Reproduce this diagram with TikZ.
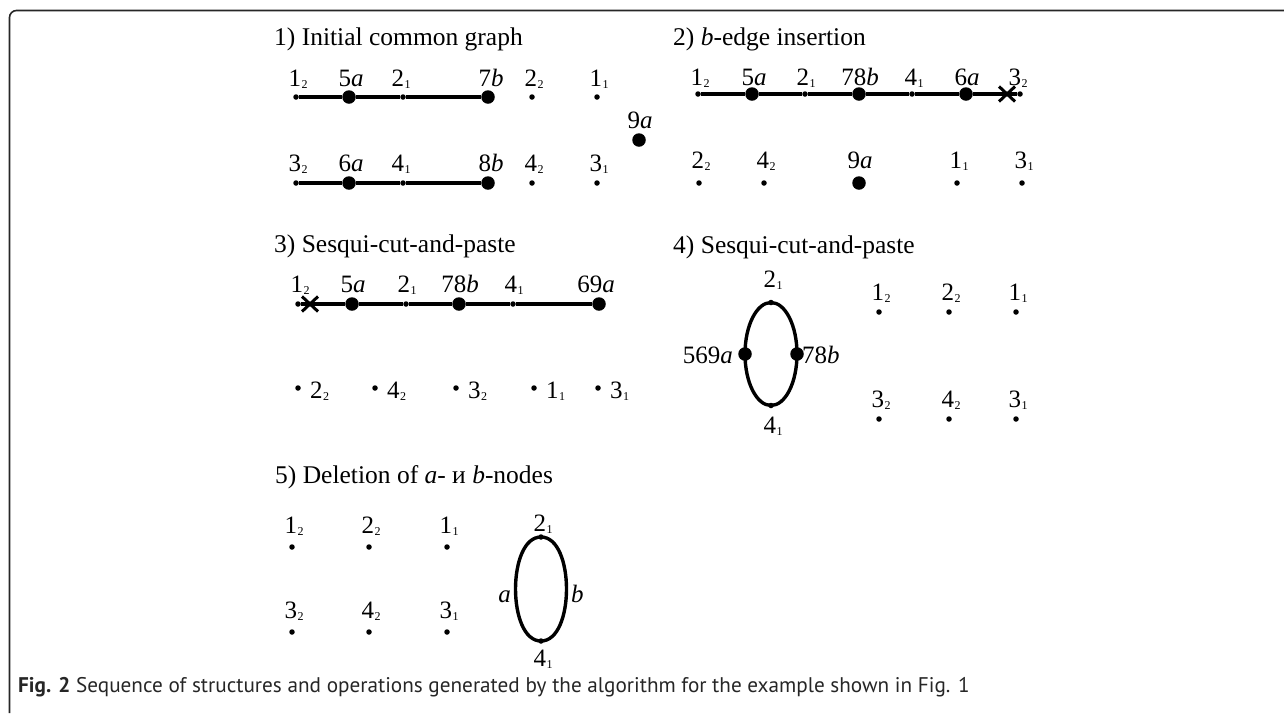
\documentclass[tikz,border=0pt]{standalone}
\usepackage{fontspec}
\setmainfont{Liberation Serif}
\newfontfamily\capfont{PT Sans}
\usetikzlibrary{shapes.misc}
\tikzset{
 sdot/.style={circle,fill=black,inner sep=0pt,minimum size=5.5pt},
 bdot/.style={circle,fill=black,inner sep=0pt,minimum size=13.5pt},
 xmark/.style={cross out,draw=black,line width=3pt,minimum width=13pt,minimum height=12pt,inner sep=0pt},
 edgeline/.style={line width=3.4pt},
 lbl/.style={anchor=base,inner sep=0pt,font=\fontsize{25}{29}\selectfont},
 lblw/.style={lbl,anchor=base west},
 lble/.style={lbl,anchor=base east},
 ttl/.style={anchor=base west,inner sep=0pt,font=\fontsize{25.5}{30}\selectfont},
 frameline/.style={line width=1.6pt,draw=black!85,rounded corners=7pt},
}
\newcommand\lb[2]{#1\kern0.5pt\raisebox{-2pt}{\fontsize{12}{13}\selectfont #2}}
\newcommand\iv[1]{\textit{#1}}
\begin{document}
\begin{tikzpicture}[x=1pt,y=-1pt]
\useasboundingbox (0,0) rectangle (1284,713);
\draw[frameline] (1284,10.5) -- (9.5,10.5) -- (9.5,713);

% ---------- Panel 1
\node[ttl] (t1) at (274,45) {1) Initial common graph};
\node[sdot] (a1) at (296,97) {};
\node[bdot] (a2) at (349,97) {};
\node[sdot] (a3) at (403,97) {};
\node[bdot] (a4) at (488,97) {};
\node[sdot] (a5) at (532,97) {};
\node[sdot] (a6) at (597,97) {};
\draw[edgeline] (a1) -- (a2) -- (a3) -- (a4);
\node[lbl] (la1) at (298,86) {\lb{1}{2}};
\node[lbl] (la2) at (351,86) {5\iv{a}};
\node[lbl] (la3) at (401,86) {\lb{2}{1}};
\node[lbl] (la4) at (491,86) {7\iv{b}};
\node[lbl] (la5) at (534,86) {\lb{2}{2}};
\node[lbl] (la6) at (599,86) {\lb{1}{1}};
\node[sdot] (b1) at (296,183) {};
\node[bdot] (b2) at (349,183) {};
\node[sdot] (b3) at (403,183) {};
\node[bdot] (b4) at (488,183) {};
\node[sdot] (b5) at (532,183) {};
\node[sdot] (b6) at (597,183) {};
\draw[edgeline] (b1) -- (b2) -- (b3) -- (b4);
\node[lbl] (lb1) at (298,171) {\lb{3}{2}};
\node[lbl] (lb2) at (351,171) {6\iv{a}};
\node[lbl] (lb3) at (401,171) {\lb{4}{1}};
\node[lbl] (lb4) at (491,171) {8\iv{b}};
\node[lbl] (lb5) at (534,171) {\lb{4}{2}};
\node[lbl] (lb6) at (599,171) {\lb{3}{1}};
\node[bdot] (a9) at (639,140) {};
\node[lbl] (la9) at (640,128) {9\iv{a}};

% ---------- Panel 2
\node[ttl] (t2) at (673,45) {2) \iv{b}-edge insertion};
\node[sdot] (c1) at (698,94) {};
\node[bdot] (c2) at (752,94) {};
\node[sdot] (c3) at (805,94) {};
\node[bdot] (c4) at (859,94) {};
\node[sdot] (c5) at (912,94) {};
\node[bdot] (c6) at (966,94) {};
\node[xmark] (cx) at (1007,94) {};
\node[sdot] (c7) at (1020,94) {};
\draw[edgeline] (c1) -- (c2) -- (c3) -- (c4) -- (c5) -- (c6) -- (c7);
\node[lbl] (lc1) at (700,85) {\lb{1}{2}};
\node[lbl] (lc2) at (754,85) {5\iv{a}};
\node[lbl] (lc3) at (806,85) {\lb{2}{1}};
\node[lbl] (lc4) at (860,85) {78\iv{b}};
\node[lbl] (lc5) at (914,85) {\lb{4}{1}};
\node[lbl] (lc6) at (967,85) {6\iv{a}};
\node[lbl] (lc7) at (1018,85) {\lb{3}{2}};
\node[sdot] (d1) at (699,183) {};
\node[sdot] (d2) at (764,183) {};
\node[bdot] (d3) at (859,183) {};
\node[sdot] (d4) at (957,183) {};
\node[sdot] (d5) at (1022,183) {};
\node[lbl] (ld1) at (701,168) {\lb{2}{2}};
\node[lbl] (ld2) at (766,168) {\lb{4}{2}};
\node[lbl] (ld3) at (860,168) {9\iv{a}};
\node[lbl] (ld4) at (959,168) {\lb{1}{1}};
\node[lbl] (ld5) at (1024,168) {\lb{3}{1}};

% ---------- Panel 3
\node[ttl] (t3) at (274,252) {3) Sesqui-cut-and-paste};
\node[sdot] (e1) at (298,304) {};
\node[xmark] (ex) at (310,304) {};
\node[bdot] (e2) at (352,304) {};
\node[sdot] (e3) at (406,304) {};
\node[bdot] (e4) at (459,304) {};
\node[sdot] (e5) at (513,304) {};
\node[bdot] (e6) at (599,304) {};
\draw[edgeline] (e1) -- (e2) -- (e3) -- (e4) -- (e5) -- (e6);
\node[lbl] (le1) at (300,292) {\lb{1}{2}};
\node[lbl] (le2) at (353,292) {5\iv{a}};
\node[lbl] (le3) at (407,292) {\lb{2}{1}};
\node[lbl] (le4) at (460,292) {78\iv{b}};
\node[lbl] (le5) at (514,292) {\lb{4}{1}};
\node[lbl] (le6) at (596,292) {69\iv{a}};
\node[sdot] (f1) at (298,388) {};
\node[sdot] (f2) at (375,388) {};
\node[sdot] (f3) at (456,388) {};
\node[sdot] (f4) at (534,388) {};
\node[sdot] (f5) at (598,388) {};
\node[lblw] (lf1) at (310,398) {\lb{2}{2}};
\node[lblw] (lf2) at (387,398) {\lb{4}{2}};
\node[lblw] (lf3) at (468,398) {\lb{3}{2}};
\node[lblw] (lf4) at (546,398) {\lb{1}{1}};
\node[lblw] (lf5) at (610,398) {\lb{3}{1}};

% ---------- Panel 4
\node[ttl] (t4) at (673,253) {4) Sesqui-cut-and-paste};
\node[sdot] (g1) at (771,302.5) {};
\node[bdot] (g2) at (745,354) {};
\node[sdot] (g3) at (771,405.5) {};
\node[bdot] (g4) at (797,354) {};
\draw[edgeline] (g1.center) .. controls +(-14.4,0) and +(0,-28.4) .. (g2.center)
  .. controls +(0,28.4) and +(-14.4,0) .. (g3.center)
  .. controls +(14.4,0) and +(0,28.4) .. (g4.center)
  .. controls +(0,-28.4) and +(14.4,0) .. (g1.center);
\node[lbl] (lg1) at (773,287) {\lb{2}{1}};
\node[lble] (lg2) at (733,363) {569\iv{a}};
\node[lbl] (lg3) at (773,433) {\lb{4}{1}};
\node[lblw] (lg4) at (802,363) {78\iv{b}};
\node[sdot] (h1) at (879,312) {};
\node[sdot] (h2) at (949,312) {};
\node[sdot] (h3) at (1016,312) {};
\node[sdot] (h4) at (879,419) {};
\node[sdot] (h5) at (949,419) {};
\node[sdot] (h6) at (1016,419) {};
\node[lbl] (lh1) at (881,300) {\lb{1}{2}};
\node[lbl] (lh2) at (951,300) {\lb{2}{2}};
\node[lbl] (lh3) at (1018,300) {\lb{1}{1}};
\node[lbl] (lh4) at (881,407) {\lb{3}{2}};
\node[lbl] (lh5) at (951,407) {\lb{4}{2}};
\node[lbl] (lh6) at (1018,407) {\lb{3}{1}};

% ---------- Panel 5
\node[ttl] (t5) at (275,483) {5) Deletion of \iv{a}- и \iv{b}-nodes};
\node[sdot] (k1) at (292,547) {};
\node[sdot] (k2) at (369,547) {};
\node[sdot] (k3) at (447,547) {};
\node[sdot] (k4) at (292,632) {};
\node[sdot] (k5) at (369,632) {};
\node[sdot] (k6) at (447,632) {};
\node[lbl] (lk1) at (294,533) {\lb{1}{2}};
\node[lbl] (lk2) at (371,533) {\lb{2}{2}};
\node[lbl] (lk3) at (449,533) {\lb{1}{1}};
\node[lbl] (lk4) at (294,618) {\lb{3}{2}};
\node[lbl] (lk5) at (371,618) {\lb{4}{2}};
\node[lbl] (lk6) at (449,618) {\lb{3}{1}};
\node[sdot] (m1) at (541,537) {};
\node[sdot] (m3) at (541,641) {};
\draw[edgeline] (m1.center) .. controls +(-34,0) and +(-34,0) .. (m3.center);
\draw[edgeline] (m1.center) .. controls +(34,0) and +(34,0) .. (m3.center);
\node[lbl] (lm1) at (543,531) {\lb{2}{1}};
\node[lbl] (lm3) at (543,666) {\lb{4}{1}};
\node[lble] (lma) at (511,602) {\iv{a}};
\node[lblw] (lmb) at (571,602) {\iv{b}};

% ---------- Caption
\node[anchor=base west,inner sep=0pt,text=black!85,font=\capfont\fontsize{21.2}{24}\selectfont] (cap) at (18,692)
  {\textbf{Fig. 2} Sequence of structures and operations generated by the algorithm for the example shown in Fig. 1};
\end{tikzpicture}
\end{document}
